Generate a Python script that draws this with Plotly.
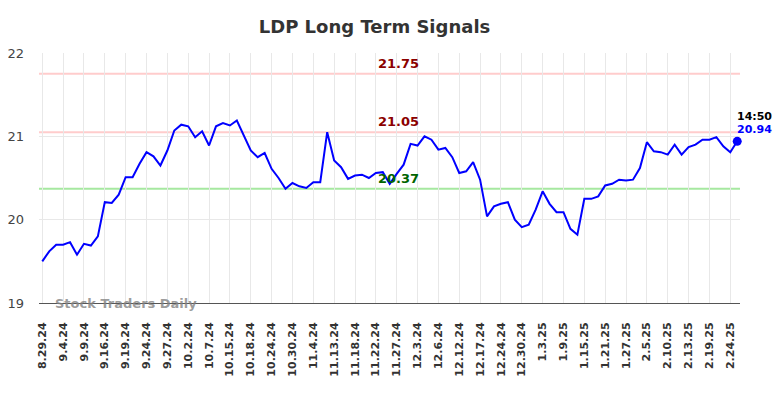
import plotly.graph_objects as go

tick_labels = ["8.29.24", "9.4.24", "9.9.24", "9.16.24", "9.19.24", "9.24.24", "9.27.24",
               "10.2.24", "10.7.24", "10.15.24", "10.18.24", "10.24.24", "10.30.24",
               "11.4.24", "11.13.24", "11.18.24", "11.22.24", "11.27.24", "12.3.24",
               "12.6.24", "12.12.24", "12.17.24", "12.24.24", "12.30.24", "1.3.25",
               "1.9.25", "1.15.25", "1.21.25", "1.27.25", "2.5.25", "2.10.25",
               "2.13.25", "2.19.25", "2.24.25"]
tick_step = 3

prices = [19.50, 19.62, 19.70, 19.70, 19.73, 19.58, 19.71, 19.69, 19.80, 20.21,
          20.20, 20.30, 20.51, 20.51, 20.67, 20.81, 20.76, 20.65, 20.83, 21.07,
          21.14, 21.12, 20.99, 21.06, 20.89, 21.12, 21.16, 21.13, 21.19, 21.02,
          20.83, 20.75, 20.80, 20.61, 20.50, 20.37, 20.44, 20.40, 20.38, 20.45,
          20.45, 21.05, 20.71, 20.63, 20.49, 20.53, 20.54, 20.50, 20.56, 20.57,
          20.43, 20.55, 20.66, 20.91, 20.89, 21.00, 20.96, 20.84, 20.86, 20.75,
          20.56, 20.58, 20.69, 20.48, 20.04, 20.16, 20.19, 20.21, 20.00, 19.91,
          19.94, 20.12, 20.34, 20.19, 20.09, 20.09, 19.89, 19.82, 20.25, 20.25,
          20.28, 20.41, 20.43, 20.48, 20.47, 20.48, 20.62, 20.93, 20.82, 20.81,
          20.78, 20.90, 20.78, 20.87, 20.90, 20.96, 20.96, 20.99, 20.88, 20.81,
          20.94]

levels = [21.75, 21.05, 20.37]
level_line_colors = ["#ffcccc", "#ffcccc", "#a6e8a0"]
level_text_colors = ["#8b0000", "#8b0000", "#006400"]
last_time = "14:50"

x = list(range(len(prices)))
tickvals = [i * tick_step for i in range(len(tick_labels))]

fig = go.Figure()
for lv, lc in zip(levels, level_line_colors):
    fig.add_shape(type="line", xref="paper", x0=0, x1=1, yref="y", y0=lv, y1=lv,
                  line=dict(color=lc, width=2), layer="below")

fig.add_trace(go.Scatter(x=x, y=prices, mode="lines",
                         line=dict(color="#0000ff", width=2), hoverinfo="skip"))
fig.add_trace(go.Scatter(x=[x[-1]], y=[prices[-1]], mode="markers",
                         marker=dict(color="#0000ff", size=9), hoverinfo="skip",
                         cliponaxis=False))

ann_x = 51.3
for lv, tc in zip(levels, level_text_colors):
    fig.add_annotation(x=ann_x, y=lv, text=f"{lv:.2f}", showarrow=False,
                       yanchor="bottom", yshift=1,
                       font=dict(family="DejaVu Sans", size=13, color=tc, weight="bold"))

fig.add_annotation(x=x[-1], y=prices[-1], text=last_time, showarrow=False,
                   xanchor="left", yanchor="bottom", xshift=-2, yshift=16,
                   font=dict(family="DejaVu Sans", size=11, color="#000000", weight="bold"))
fig.add_annotation(x=x[-1], y=prices[-1], text=f"{prices[-1]:.2f}", showarrow=False,
                   xanchor="left", yanchor="bottom", xshift=-2, yshift=3,
                   font=dict(family="DejaVu Sans", size=11, color="#0000ff", weight="bold"))

fig.add_annotation(xref="paper", yref="paper", x=0.02, y=0.0, text="Stock Traders Daily",
                   showarrow=False, xanchor="left", yanchor="middle",
                   font=dict(family="DejaVu Sans", size=13, color="rgba(130,130,130,0.8)",
                             weight="bold"))

fig.update_layout(
    width=776, height=390,
    margin=dict(l=31, r=44, t=45, b=95, autoexpand=False),
    paper_bgcolor="white", plot_bgcolor="white",
    showlegend=False,
    title=dict(text="LDP Long Term Signals", x=0.4723, xanchor="center",
               xref="container", y=0.951, yref="container", yanchor="middle",
               font=dict(family="DejaVu Sans", size=18, color="#333333", weight="bold")),
    font=dict(family="DejaVu Sans"),
)
fig.update_xaxes(range=[-0.47, 100.4], tickvals=tickvals, ticktext=tick_labels,
                 tickangle=-90, showgrid=True, gridcolor="#e8e8e8", gridwidth=1,
                 zeroline=False, showline=True, linecolor="#555555", linewidth=1,
                 ticks="", ticklabelstandoff=14, automargin=False,
                 tickfont=dict(family="DejaVu Sans", size=11, color="#333333", weight="bold"))
fig.update_yaxes(range=[19, 22], tickvals=[19, 20, 21, 22], showgrid=True,
                 gridcolor="#e8e8e8", zeroline=False, showline=False, ticks="",
                 ticklabelstandoff=14, automargin=False,
                 tickfont=dict(family="DejaVu Sans", size=13, color="#444444"))

fig.write_html("out.html")
